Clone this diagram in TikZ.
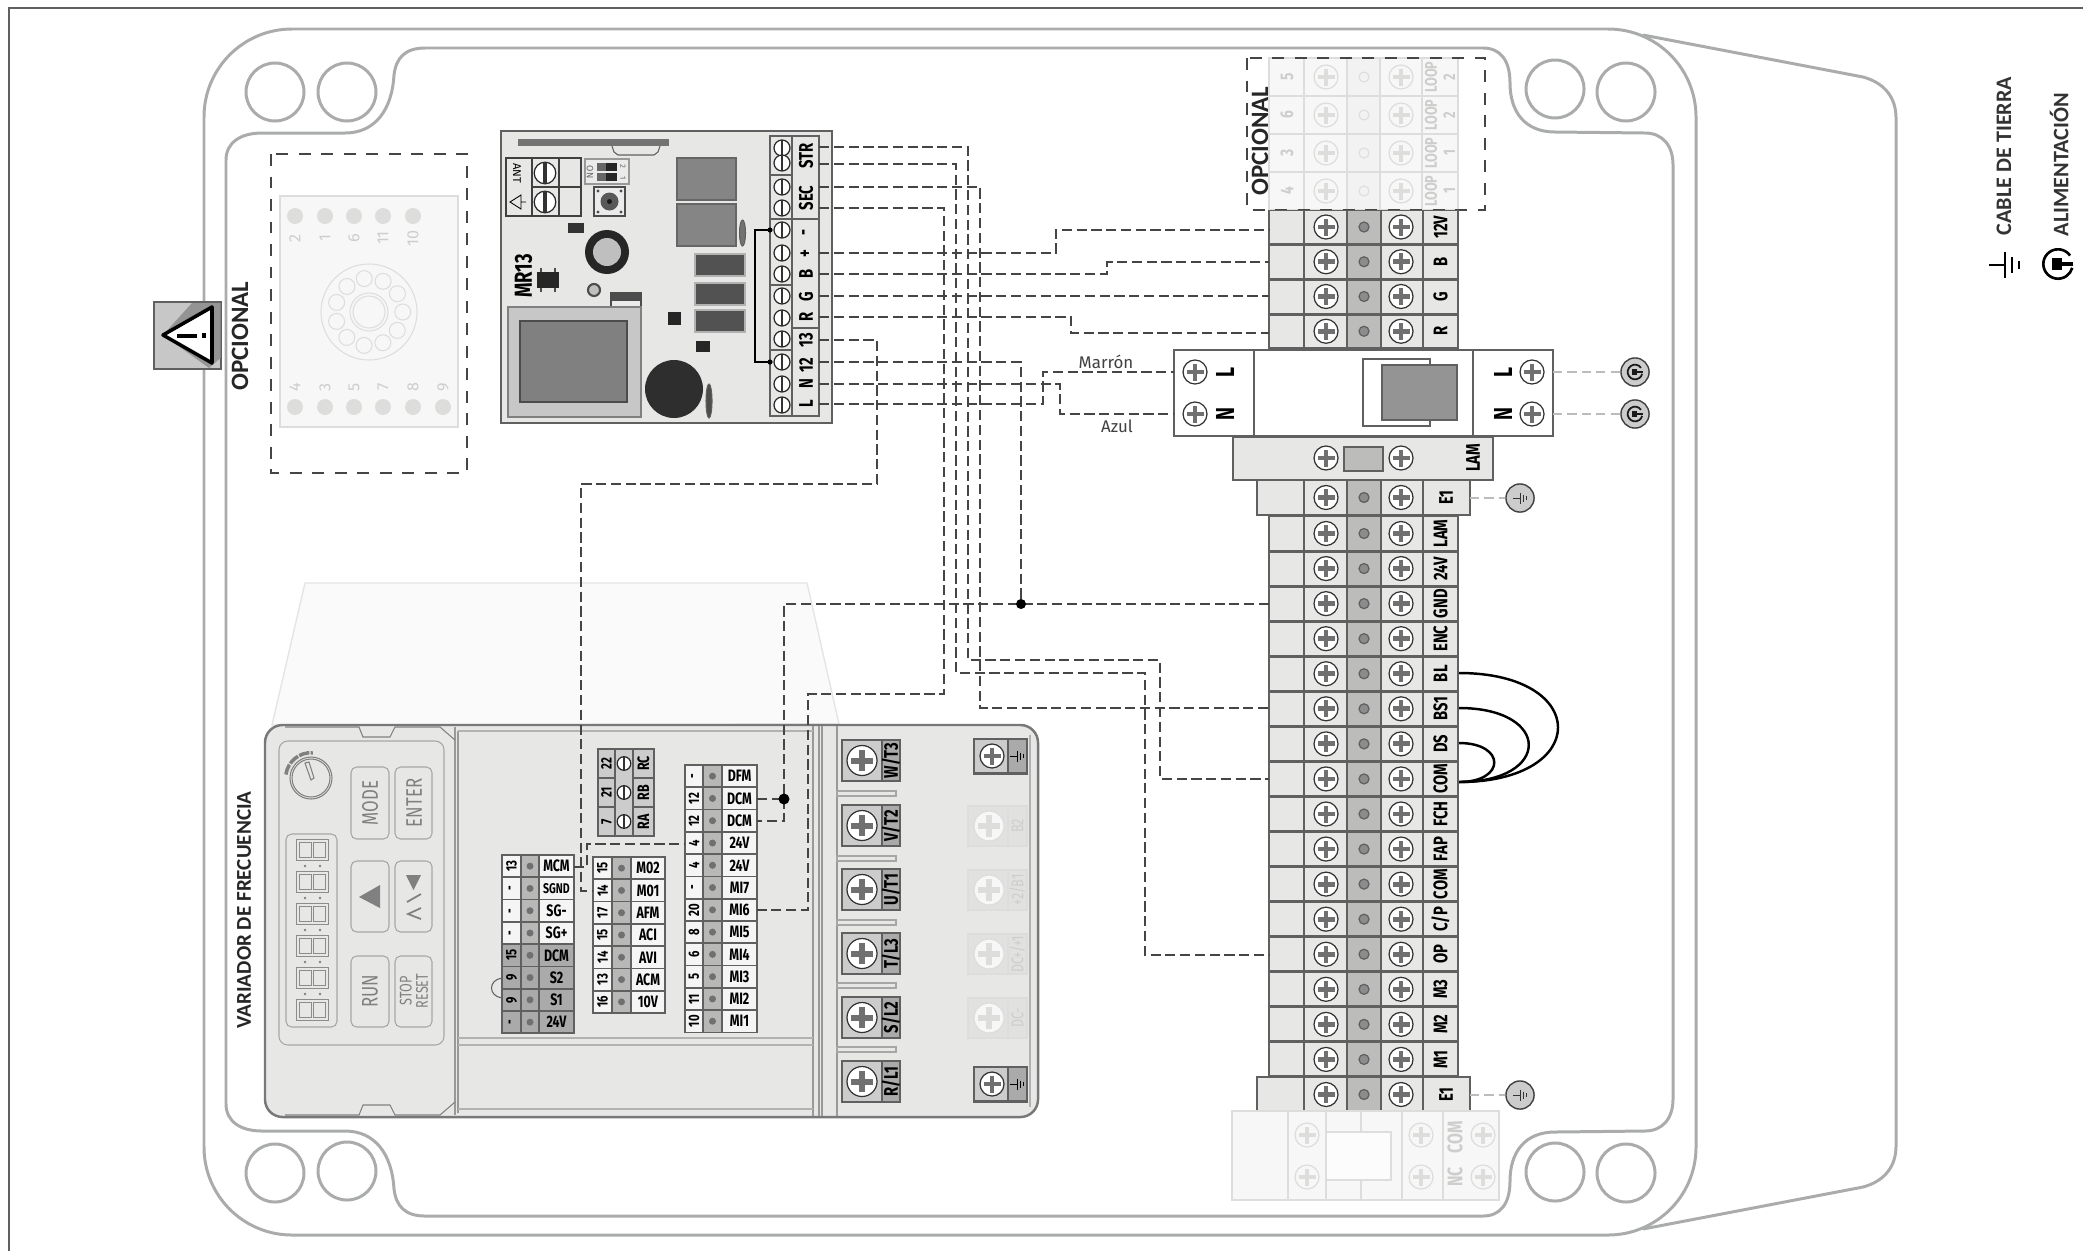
\documentclass[tikz,border=0pt]{standalone}
\usepackage{fontspec}
\newfontfamily\din[FakeStretch=0.75]{Fira Sans}
\newfontfamily\fira{Fira Sans}
\newfontfamily\carl{Carlito}
\definecolor{panel}{HTML}{E7E8E6}
\definecolor{bar}{HTML}{BCBDBB}
\definecolor{edge}{HTML}{5F605F}
\definecolor{cover}{HTML}{A9ACAB}
\definecolor{wirecol}{HTML}{454545}
\definecolor{lside}{HTML}{F4F5F4}
\definecolor{lmid}{HTML}{B8B9B7}
\definecolor{dside}{HTML}{A9AAA9}
\definecolor{dmid}{HTML}{A9AAA9}
\definecolor{faint}{HTML}{DDDEDC}
\definecolor{faintbg}{HTML}{F6F7F6}
\definecolor{faintink}{HTML}{CDCECC}
\tikzset{
	wire/.style={color=wirecol, line width=0.45pt, dash pattern=on 2.9pt off 1.3pt},
	earthwire/.style={color=bar, line width=0.6pt, dash pattern=on 2.6pt off 1.5pt},
	jumper/.style={line width=0.7pt},
	cover/.style={color=cover, line width=0.85pt},
	optbox/.style={color=wirecol, line width=0.8pt, dash pattern=on 3.4pt off 3pt},
	block/.style={draw=edge, line width=0.5pt, fill=panel},
	tlabel/.style={font=\din\bfseries\fontsize{5.6}{6}\selectfont, rotate=90, inner sep=0pt},
	vlabel/.style={font=\din\bfseries\fontsize{4.7}{5}\selectfont, inner sep=0pt},
	vnum/.style={font=\din\bfseries\fontsize{4.3}{5}\selectfont, rotate=90, inner sep=0pt},
	keylabel/.style={font=\din\fontsize{6.4}{6}\selectfont, rotate=90, inner sep=0pt, text=gray, align=center},
	faintlabel/.style={font=\din\bfseries\fontsize{5.2}{5.2}\selectfont, rotate=90, inner sep=0pt, text=faintink, align=center},
	bigtitle/.style={font=\carl\bfseries\fontsize{7.1}{8}\selectfont, rotate=90, inner sep=0pt, text=black!85},
	legend/.style={font=\carl\bfseries\fontsize{6.3}{8}\selectfont, rotate=90, inner sep=0pt, anchor=west, text=black!80},
	symdisc/.style={circle, draw=black!75, fill=black!20, line width=0.4pt, minimum size=8pt, inner sep=0pt},
	key/.style={draw=gray!70, line width=0.3pt, rounded corners=1.6pt},
	pics/phscrew/.style={code={
		\draw[fill=white, draw=black!80, line width=0.35pt] (0,0) circle (12);
		\fill[edge!90] (-8.5,-2.4) rectangle (8.5,2.4);
		\fill[edge!90] (-2.4,-8.5) rectangle (2.4,8.5);
	}},
	pics/faintscrew/.style={code={
		\draw[fill=faintbg, draw=faint, line width=0.35pt] (0,0) circle (12);
		\fill[faint] (-8.5,-2.4) rectangle (8.5,2.4);
		\fill[faint] (-2.4,-8.5) rectangle (2.4,8.5);
	}},
	pics/flatscrew/.style={code={
		\draw[fill=white, draw=black!85, line width=0.35pt] (0,0) circle (8);
		\fill[black!80] (-1.3,-8) rectangle (1.3,8);
	}},
	pics/earthsym/.style={code={
		\draw (-7,0) -- (0,0) (0,-5.5) -- (0,5.5);
		\draw (3,-3.5) -- (3,3.5);
		\draw (6,-1.8) -- (6,1.8);
	}},
	pics/plugsym/.style={code={
		\draw (0,0) ++(35:2.2pt) arc[start angle=35, end angle=345, radius=2.2pt];
		\fill (-3,-3) rectangle (2,3);
		\fill (2,-1.2) rectangle (8,1.2);
	}}
}
% one row block of the drive: name, four column edges, first y, rows
\newcommand{\vfdblock}[7]{
	\foreach \num/\lab/\tone [count=\i from 0, evaluate=\i as \yy using #6+22.28*\i, evaluate=\i as \yc using #6+22.28*\i+11.14] in {#7} {
		\draw[draw=edge, line width=0.5pt, fill=\tone side] (#2,\yy) rectangle (#5,\yy+22.28);
		\draw[draw=edge, line width=0.5pt, fill=\tone mid] (#3,\yy) rectangle (#4,\yy+22.28);
		\fill[edge!90] ({(#3+#4)/2},\yc) circle (3.5);
		\node[vnum] (#1n\i) at ({(#2+#3)/2},\yc) {\num};
		\node[vlabel] (#1l\i) at ({(#4+#5)/2},\yc) {\lab};
	}
}

\begin{document}
\begin{tikzpicture}[x=0.01cm, y=-0.01cm]
	\useasboundingbox (0,0) rectangle (2083,1251);

	% sheet edge
	\draw[color=edge, line width=0.5pt] (2083,8) -- (9,8) -- (9,1251);

	% lid and box
	\draw[cover] (1643,35) -- (1863,77) .. controls (1885,83) and (1896,98) .. (1896,118) -- (1896,1146) .. controls (1896,1166) and (1885,1181) .. (1863,1187) -- (1643,1229);
	\draw[cover, fill=white, rounded corners=25pt] (204,29) rectangle (1696,1235);
	\draw[cover] (226,1104) -- (226,160) .. controls (226,143) and (240,133) .. (262,133) -- (345,133) .. controls (375,133) and (392,110) .. (394,75) .. controls (396,58) and (405,48) .. (425,48) -- (1483,48) .. controls (1500,48) and (1510,60) .. (1510,83) .. controls (1510,112) and (1525,132) .. (1555,132) -- (1645,133) .. controls (1662,133) and (1673,145) .. (1673,165) -- (1673,1099) .. controls (1673,1119) and (1662,1131) .. (1645,1131) -- (1555,1132) .. controls (1525,1132) and (1510,1152) .. (1510,1181) .. controls (1510,1204) and (1500,1216) .. (1483,1216) -- (425,1216) .. controls (405,1216) and (396,1206) .. (394,1189) .. controls (392,1154) and (375,1131) .. (345,1131) -- (262,1131) .. controls (240,1131) and (226,1121) .. (226,1104) -- cycle;
	% fixing holes
	\foreach \hx/\hy in {275/92,347/92,1555/89,1626/92,275/1173,347/1171,1555/1172,1626/1173} {
		\draw[cover] (\hx,\hy) circle (29);
	}

	% warning sign
	\draw[draw=edge, fill=black!22, line width=0.5pt] (154,302) rectangle (221,369);
	\fill[black!42] (192,303) -- (220.5,303) -- (220.5,358) -- (209,368) -- (163,335) -- cycle;
	\draw[fill=white, line width=1pt, line join=round] (163,335) -- (212,307) -- (212,363) -- cycle;
	\fill[black] (177,333.5) rectangle (197,337.5);
	\fill[black] (202,333) rectangle (206,338);
	\node[bigtitle] (titleleft) at (240,336) {OPCIONAL};

	% optional relay socket
	\draw[optbox] (271,154) rectangle (467,473);
	\draw[draw=faint, fill=faintbg, line width=0.5pt] (280,196) rectangle (458,427);
	\foreach \nx/\lab in {295/2,325/1,354/6,383/11,413/10} {
		\fill[faint] (\nx,216) circle (8);
		\node[faintlabel, font=\fira\fontsize{4.6}{5}\selectfont] (socktop\lab) at (\nx,238) {\lab};
	}
	\foreach \nx/\lab in {295/4,325/3,354/5,383/7,413/8,443/9} {
		\fill[faint] (\nx,407) circle (8);
		\node[faintlabel, font=\fira\fontsize{4.6}{5}\selectfont] (sockbot\lab) at (\nx,387) {\lab};
	}
	\draw[color=faint, line width=0.3pt] (369,312) circle (48);
	\draw[color=faint, line width=0.3pt] (369,312) circle (19);
	\draw[color=faint, line width=0.3pt] (369,312) circle (16);
	\foreach \a in {0,32.7,...,330} {
		\draw[color=faint, line width=0.3pt] (369,312) ++(\a:9.6pt) circle (8);
	}

	% receiver board
	\draw[draw=edge, fill=panel, line width=0.7pt] (501,131) rectangle (832,423);
	\draw[draw=edge, line width=0.3pt] (612,146) -- (614,152) -- (618,155) -- (654,155) -- (658,152) -- (660,146);
	\fill[black!55] (518,139) rectangle (669,146);
	\draw[draw=black!75, line width=0.5pt] (506,158) rectangle (581,216);
	\draw[draw=black!75, line width=0.5pt] (532,158) -- (532,216) (559,158) -- (559,216) (532,187) -- (581,187);
	\pic[scale=1.35] at (545,173) {flatscrew};
	\pic[scale=1.35] at (545,202) {flatscrew};
	\node[font=\fira\fontsize{3.2}{4}\selectfont, rotate=-90, inner sep=0pt] (antname) at (517,173) {ANT};
	\draw[line width=0.25pt] (510,202) -- (521,195) -- (521,209) -- cycle (521,202) -- (526,202);
	% dip switch and button
	\draw[draw=black!40, fill=black!8, line width=0.4pt] (585,159) rectangle (629,184);
	\fill[black!60] (597,163) rectangle (606,171);
	\fill[black!85] (606,163) rectangle (617,171);
	\fill[black!60] (597,173) rectangle (606,181);
	\fill[black!85] (606,173) rectangle (617,181);
	\node[font=\fira\fontsize{2.6}{3}\selectfont, rotate=-90, inner sep=0pt, text=black!60] (dipon) at (590,172) {ON};
	\node[font=\fira\fontsize{2.2}{3}\selectfont, rotate=-90, inner sep=0pt, text=black!60] (diptwo) at (623,166) {2};
	\node[font=\fira\fontsize{2.2}{3}\selectfont, rotate=-90, inner sep=0pt, text=black!60] (dipone) at (623,178) {1};
	\draw[draw=black!70, fill=black!8, line width=0.4pt] (594,187) rectangle (625,216);
	\fill[black!65] (609.5,201.5) circle (9);
	\fill[black!90] (609.5,201.5) circle (2.5);
	\foreach \bx/\by in {598/191,621/191,598/212,621/212} {
		\fill[black!70] (\bx,\by) circle (1.6);
	}
	% relays, regulators and other parts
	\draw[draw=black!60, fill=black!48, line width=0.3pt] (677,158) rectangle (736,200);
	\draw[draw=black!60, fill=black!48, line width=0.3pt] (677,204) rectangle (736,246);
	\foreach \ty in {254,283,310} {
		\draw[draw=black!30, fill=black!68, line width=0.3pt] (695,\ty) rectangle (745,\ty+22);
	}
	\draw[draw=edge, fill=black!70, line width=0.3pt] (709,401) ellipse (3 and 17);
	\draw[draw=edge, fill=black!55, line width=0.3pt] (742.5,233) ellipse (3 and 13);
	\fill[black!85] (607,252) circle (22);
	\fill[black!25] (607,252) circle (14);
	\fill[black!80] (568,223) rectangle (584,233);
	\fill[black!85] (537,272) rectangle (559,288);
	\foreach \lx in {541,555} {
		\fill[black!70] (\lx-1,268) rectangle (\lx+1,272);
		\fill[black!70] (\lx-1,288) rectangle (\lx+1,292);
	}
	\fill[black!85] (668,312) rectangle (681,325);
	\fill[black!85] (696,341) rectangle (710,352);
	\draw[draw=black!70, fill=black!25, line width=0.6pt] (594,290) circle (6);
	\fill[black!70] (610,292) rectangle (642,307);
	\fill[black!8] (612,301) rectangle (640,307);
	\draw[draw=edge!80, fill=black!22, line width=0.4pt] (508,307) rectangle (641,417);
	\draw[draw=black!70, fill=black!50, line width=0.4pt] (520,321) rectangle (627,402);
	\fill[black!82] (674,389) circle (29);
	\node[font=\din\bfseries\fontsize{7}{7}\selectfont, rotate=90, inner sep=0pt] (boardname) at (523.5,276) {MR13};
	% board terminals
	\draw[block, line width=0.6pt] (770,136) rectangle (819,416);
	\draw[draw=edge, line width=0.5pt] (792,136) -- (792,416);
	\draw[draw=edge, line width=0.4pt] (770,175) -- (792,175) (770,219) -- (819,219) (770,285) -- (792,285) (792,328) -- (819,328) (770,350) -- (792,350);
	\foreach \sy in {148,163,187,208,230,253,274,296,318,339,362,384,405} {
		\pic at (782,\sy) {flatscrew};
	}
	\foreach \lab/\ly [count=\i] in {STR/156,SEC/198,-/232,+/254,B/274,G/297,R/317,13/340,12/365,N/384,L/404} {
		\node[tlabel] (mrl\i) at (806,\ly) {\lab};
	}
	% bridge on the board
	\draw[line width=0.45pt] (770,230) -- (755,230) -- (755,362) -- (770,362);
	\fill (770,230) circle (2.6);
	\fill (770,362) circle (2.6);

	% drive, ghost of the cover
	\draw[draw=black!10, fill=black!2, line width=0.4pt] (272,725) -- (305,583) -- (807,583) -- (839,724) -- cycle;
	% drive, body
	\draw[draw=edge!85, fill=panel, line width=0.7pt, rounded corners=5pt] (265,725) rectangle (1038,1117);
	\draw[draw=gray!80, line width=0.3pt] (455,727) -- (455,1115) (458,731) -- (458,1113);
	\draw[draw=gray!80, line width=0.3pt] (813,726) -- (813,1116) (819,726) -- (819,1116) (822,726) -- (822,1116) (837,726) -- (837,1116);
	\draw[draw=gray!60, line width=0.3pt] (458,731) -- (813,731) (458,1109) -- (813,1109) (458,1038) -- (813,1038) (458,1045) -- (813,1045);
	\draw[draw=gray!60, line width=0.3pt] (1030,735) -- (1030,1107);
	\draw[draw=gray, line width=0.3pt] (285,727) -- (359,727) -- (363,737) -- (390,737) -- (395,727) -- (440,727) -- (455,740);
	\draw[draw=gray, line width=0.3pt] (285,1115) -- (359,1115) -- (363,1105) -- (390,1105) -- (395,1115) -- (440,1115) -- (455,1102);
	% drive, keypad
	\draw[key, rounded corners=2.5pt] (279,741) rectangle (444,1045);
	\draw[key] (286,834) rectangle (337,1027);
	\draw[key] (351,767) rectangle (389,839);
	\draw[key] (395,767) rectangle (432,839);
	\draw[key] (351,861) rectangle (389,932);
	\draw[key] (395,861) rectangle (432,932);
	\draw[key] (351,956) rectangle (389,1027);
	\draw[key] (395,956) rectangle (432,1027);
	\node[keylabel] (keymode) at (370,803) {MODE};
	\node[keylabel] (keyenter) at (414,803) {ENTER};
	\node[keylabel] (keyrun) at (370,991) {RUN};
	\node[keylabel, font=\din\fontsize{4.8}{4.6}\selectfont] (keystop) at (414,991) {STOP\\RESET};
	\fill[gray] (359,897) -- (380,885) -- (380,908) -- cycle;
	\fill[gray] (406,875) -- (421,875) -- (413.5,890) -- cycle;
	\draw[gray, line width=0.5pt] (407,902) -- (421,894) (421,908) -- (408,914) -- (421,919);
	% drive, knob
	\draw[color=gray, line width=0.3pt] (311,778) circle (21);
	\draw[color=gray, line width=0.3pt] (311,778) circle (19);
	\draw[color=gray, line width=0.3pt] (305,763) -- (309,762) -- (314,778) -- (311,780) -- cycle;
	\draw[color=gray, line width=1pt, dash pattern=on 3pt off 0.4pt] (311,778) ++(172:7.2pt) arc[start angle=172, end angle=86, radius=7.2pt];
	% drive, display digits
	\foreach \dy in {850,882,914,946,978,1010} {
		\draw[color=gray!90, line width=0.22pt, double=panel, double distance=0.5pt] (298,\dy-9) rectangle (327,\dy+9) (312.5,\dy-9) -- (312.5,\dy+9);
	}
	\foreach \cy in {866,898,930,962,994} {
		\fill[gray] (305,\cy) circle (1.4);
		\fill[gray] (320,\cy) circle (1.4);
	}
	\node[bigtitle, font=\carl\bfseries\fontsize{6}{8}\selectfont] (titledrive) at (244,910) {VARIADOR DE FRECUENCIA};

	% drive, control terminals
	\vfdblock{ca}{502}{521}{539}{574}{855}{13/MCM/l,-/{\fontsize{4}{4}\selectfont SGND}/l,-/SG-/l,-/SG+/l,15/DCM/d,9/S2/d,9/S1/d,-/24V/d}
	\vfdblock{cb}{593}{612}{631}{665}{857}{15/M02/l,14/M01/l,17/AFM/l,15/ACI/l,14/AVI/l,13/ACM/l,16/10V/l}
	\vfdblock{cc}{685}{703}{722}{757}{765}{-/DFM/l,12/DCM/l,12/DCM/l,4/24V/l,4/24V/l,-/MI7/l,20/MI6/l,8/MI5/l,6/MI4/l,5/MI3/l,11/MI2/l,10/MI1/l}
	\draw[line width=0.3pt, color=edge] (502,978) .. controls (488,980) and (488,996) .. (502,998);
	% drive, relay terminals
	\draw[draw=edge, fill=black!20, line width=0.5pt] (598,749) rectangle (654,836);
	\draw[draw=edge, line width=0.4pt] (615,749) -- (615,836) (633,749) -- (633,836) (598,778) -- (615,778) (598,807) -- (615,807) (633,778) -- (654,778) (633,807) -- (654,807);
	\foreach \num/\lab [count=\i from 0, evaluate=\i as \yc using 763.5+29*\i] in {22/RC,21/RB,7/RA} {
		\node[vnum] (crn\i) at (606.5,\yc) {\num};
		\pic[scale=0.85] at (624,\yc) {flatscrew};
		\node[vlabel, rotate=90] (crl\i) at (643.5,\yc) {\lab};
	}
	% drive, power terminals
	\foreach \lab/\py [count=\i] in {{W/T3}/740,{V/T2}/805,{U/T1}/869,{T/L3}/933,{S/L2}/997,{R/L1}/1061} {
		\draw[draw=edge, fill=black!20, line width=0.6pt] (842,\py) rectangle (882,\py+41);
		\draw[draw=edge, fill=dside, line width=0.6pt] (882,\py) rectangle (900,\py+41);
		\pic[scale=1.25] at (862,\py+20.5) {phscrew};
		\node[tlabel] (pw\i) at (891,\py+20.5) {\lab};
	}
	\foreach \sy in {791,856,920,983,1047} {
		\draw[draw=gray!70, fill=panel, line width=0.3pt] (837,\sy) rectangle (896,\sy+5);
	}
	\foreach \py [count=\i] in {739,1067} {
		\draw[draw=edge, fill=black!20, line width=0.6pt] (974,\py) rectangle (1008,\py+34.5);
		\draw[draw=edge, fill=dside, line width=0.6pt] (1008,\py) rectangle (1027,\py+34.5);
		\pic at (992,\py+17) {phscrew};
		\pic[color=black, line width=0.28pt] at (1017,\py+17) {earthsym};
	}
	\foreach \lab/\py [count=\i] in {B2/806,{+2/B1}/870,{DC+/+1}/934,DC-/998} {
		\draw[draw=faint, fill=faint!60!panel, line width=0.6pt] (968,\py) rectangle (1027,\py+40);
		\draw[draw=faint, line width=0.4pt] (1008,\py) -- (1008,\py+40);
		\pic[scale=1.25] at (989,\py+20) {faintscrew};
		\node[faintlabel, font=\din\fontsize{4.8}{5}\selectfont] (pwf\i) at (1017.5,\py+20) {\lab};
	}

	% optional terminals on top of the strip
	\foreach \num/\lab [count=\i from 0, evaluate=\i as \yy using 58+38*\i, evaluate=\i as \yc using 77+38*\i] in {5/2,6/2,3/1,4/1} {
		\draw[draw=faint, fill=faintbg, line width=0.5pt] (1269,\yy) rectangle (1458,\yy+38);
		\draw[draw=faint, fill=faint!40!white, line width=0.5pt] (1347,\yy) rectangle (1380,\yy+38);
		\draw[draw=faint, line width=0.5pt] (1304,\yy) -- (1304,\yy+38) (1422,\yy) -- (1422,\yy+38);
		\pic at (1326,\yc) {faintscrew};
		\pic at (1401,\yc) {faintscrew};
		\draw[draw=faint, line width=0.3pt] (1364,\yc) circle (5);
		\node[faintlabel] (loopn\i) at (1287,\yc) {\num};
		\node[faintlabel, font=\din\bfseries\fontsize{4.8}{5.2}\selectfont] (loopl\i) at (1440,\yc) {LOOP\\\lab};
	}
	\draw[optbox] (1247,58) rectangle (1485,210);
	\node[bigtitle] (titleopt) at (1260,141) {OPCIONAL};

	% terminal strip, upper part
	\foreach \lab [count=\i from 0, evaluate=\i as \yy using 210+34.75*\i, evaluate=\i as \yc using 227+34.75*\i] in {12V,B,G,R} {
		\draw[block] (1269,\yy+0.6) rectangle (1458,\yy+34.1);
		\draw[draw=edge, fill=bar, line width=0.5pt] (1347,\yy+0.6) rectangle (1381,\yy+34.1);
		\draw[draw=edge, line width=0.5pt] (1304,\yy+0.6) -- (1304,\yy+34.1) (1423,\yy+0.6) -- (1423,\yy+34.1);
		\pic at (1326,\yc) {phscrew};
		\pic at (1401,\yc) {phscrew};
		\draw[draw=edge, fill=black!45, line width=0.35pt] (1364,\yc) circle (5);
		\node[tlabel] (ta\i) at (1440.5,\yc) {\lab};
	}

	% breaker
	\draw[draw=edge, fill=white, line width=0.6pt] (1174,350) rectangle (1553,436);
	\draw[draw=edge, line width=0.5pt] (1254,350) -- (1254,436) (1473,350) -- (1473,436);
	\draw[draw=edge, fill=white, line width=0.4pt] (1363,359) rectangle (1430,426);
	\draw[draw=edge, fill=black!42, line width=0.4pt] (1382,365) rectangle (1457,420);
	\pic at (1195,372) {phscrew};
	\pic at (1195,414) {phscrew};
	\pic at (1532,372) {phscrew};
	\pic at (1532,414) {phscrew};
	\node[tlabel, font=\din\bfseries\fontsize{7.4}{7}\selectfont] (brkll) at (1225,372) {L};
	\node[tlabel, font=\din\bfseries\fontsize{7.4}{7}\selectfont] (brkln) at (1225,414) {N};
	\node[tlabel, font=\din\bfseries\fontsize{7.4}{7}\selectfont] (brkrl) at (1503,372) {L};
	\node[tlabel, font=\din\bfseries\fontsize{7.4}{7}\selectfont] (brkrn) at (1503,414) {N};

	% lamp block
	\draw[block, line width=0.6pt] (1233,437) rectangle (1493,480);
	\draw[draw=edge, fill=bar, line width=0.5pt] (1344,447) rectangle (1383,471);
	\pic at (1326,458) {phscrew};
	\pic at (1401,458) {phscrew};
	\node[tlabel] (lamblock) at (1473,458) {LAM};

	% earth blocks
	\foreach \py [count=\i] in {480,1077} {
		\draw[block, line width=0.6pt] (1257,\py) rectangle (1470,\py+35);
		\draw[draw=edge, fill=bar, line width=0.5pt] (1347,\py) rectangle (1381,\py+35);
		\draw[draw=edge, line width=0.5pt] (1304,\py) -- (1304,\py+35) (1423,\py) -- (1423,\py+35);
		\pic at (1326,\py+17.5) {phscrew};
		\pic at (1401,\py+17.5) {phscrew};
		\draw[draw=edge, fill=black!45, line width=0.35pt] (1364,\py+17.5) circle (5);
		\node[tlabel] (eb\i) at (1446,\py+17.5) {E1};
	}

	% terminal strip, lower part
	\foreach \lab [count=\i from 0, evaluate=\i as \yy using 516+35.06*\i, evaluate=\i as \yc using 533.5+35.06*\i] in {LAM,24V,GND,ENC,BL,BS1,DS,COM,FCH,FAP,COM,C/P,OP,M3,M2,M1} {
		\draw[block] (1269,\yy+0.6) rectangle (1458,\yy+34.4);
		\draw[draw=edge, fill=bar, line width=0.5pt] (1347,\yy+0.6) rectangle (1381,\yy+34.4);
		\draw[draw=edge, line width=0.5pt] (1304,\yy+0.6) -- (1304,\yy+34.4) (1423,\yy+0.6) -- (1423,\yy+34.4);
		\pic at (1326,\yc) {phscrew};
		\pic at (1401,\yc) {phscrew};
		\draw[draw=edge, fill=black!45, line width=0.35pt] (1364,\yc) circle (5);
		\node[tlabel] (tb\i) at (1440.5,\yc) {\lab};
	}

	% optional contactor below the strip
	\draw[draw=faint, fill=faintbg, line width=0.6pt] (1232,1111) rectangle (1499,1200);
	\draw[draw=faint, line width=0.5pt] (1288,1111) -- (1288,1200) (1326,1111) -- (1326,1200) (1402,1111) -- (1402,1200) (1443,1111) -- (1443,1200);
	\draw[draw=faint, line width=0.5pt] (1361,1111) -- (1361,1132) (1361,1180) -- (1361,1200);
	\draw[draw=faint, fill=white!60!faintbg, line width=0.5pt] (1326,1132) rectangle (1391,1180);
	\foreach \sx in {1307,1421,1483} {
		\pic at (\sx,1135) {faintscrew};
		\pic at (\sx,1177) {faintscrew};
	}
	\node[faintlabel, font=\din\bfseries\fontsize{6}{6}\selectfont] (faintnc) at (1455,1177) {NC};
	\node[faintlabel, font=\din\bfseries\fontsize{6}{6}\selectfont] (faintcom) at (1455,1137) {COM};

	% wire ends
	\coordinate (mr-stra) at (819,147);
	\coordinate (mr-strb) at (819,164);
	\coordinate (mr-seca) at (819,187);
	\coordinate (mr-secb) at (819,208);
	\coordinate (mr-plus) at (819,253);
	\coordinate (mr-b) at (819,274);
	\coordinate (mr-g) at (819,296);
	\coordinate (mr-r) at (819,317);
	\coordinate (mr-13) at (819,340);
	\coordinate (mr-12) at (819,362);
	\coordinate (mr-n) at (819,384);
	\coordinate (mr-l) at (819,404);
	\coordinate (st-12v) at (1269,230);
	\coordinate (st-b) at (1269,262);
	\coordinate (st-g) at (1269,296);
	\coordinate (st-r) at (1269,333);
	\coordinate (st-gnd) at (1269,604);
	\coordinate (st-bs1) at (1269,708);
	\coordinate (st-com) at (1269,779);
	\coordinate (st-op) at (1269,955);
	\coordinate (brk-l) at (1174,372);
	\coordinate (brk-n) at (1174,414);
	\coordinate (vf-mcm) at (574,867);
	\coordinate (vf-mo1) at (593,891);
	\coordinate (vf-24v) at (685,844);
	\coordinate (vf-dcma) at (757,799);
	\coordinate (vf-dcmb) at (757,821);
	\coordinate (vf-mi6) at (757,910);
	\coordinate (dotgnd) at (1021,604);
	\coordinate (dotdcm) at (784,799);

	% wires
	\draw[wire] (mr-stra) -| (968,660) -| (1160,779) -- (st-com);
	\draw[wire] (mr-strb) -| (956,673) -| (1145,955) -- (st-op);
	\draw[wire] (mr-seca) -| (980,708) -- (st-bs1);
	\draw[wire] (mr-secb) -| (944,694) -| (808,910) -- (vf-mi6);
	\draw[wire] (mr-plus) -| (1056,230) -- (st-12v);
	\draw[wire] (mr-b) -| (1107,262) -- (st-b);
	\draw[wire] (mr-g) -- (st-g);
	\draw[wire] (mr-r) -| (1071,333) -- (st-r);
	\draw[wire] (mr-13) -| (877,484) -| (581,891) -- (vf-mo1);
	\draw[wire] (mr-12) -| (dotgnd);
	\draw[wire] (st-gnd) -- (784,604) -- (784,821) -- (vf-dcmb);
	\draw[wire] (vf-dcma) -- (dotdcm);
	\draw[wire] (mr-n) -| (1060,414) -- (brk-n);
	\draw[wire] (mr-l) -| (1043,372) -- (brk-l);
	\draw[wire] (vf-mcm) -| (587,844) -- (vf-24v);
	\fill (dotgnd) circle (5);
	\fill (dotdcm) circle (5.5);
	\node[font=\fira\fontsize{4.8}{5}\selectfont, inner sep=0pt, text=black!75] (marron) at (1106,362) {Marrón};
	\node[font=\fira\fontsize{4.8}{5}\selectfont, inner sep=0pt, text=black!75] (azul) at (1117,426) {Azul};

	% jumpers
	\draw[jumper] (1459,673) .. controls (1591,673) and (1591,782) .. (1459,782);
	\draw[jumper] (1459,708) .. controls (1552,708) and (1552,782) .. (1459,782);
	\draw[jumper] (1459,743) .. controls (1506,743) and (1506,782) .. (1459,782);

	% earth and mains discs
	\node[symdisc] (eartha) at (1520,498) {};
	\node[symdisc] (earthb) at (1520,1095) {};
	\node[symdisc] (maina) at (1635,372) {};
	\node[symdisc] (mainb) at (1635,414) {};
	\coordinate (ebtop) at (1470,498);
	\coordinate (ebbot) at (1470,1095);
	\coordinate (brk-rl) at (1553,372);
	\coordinate (brk-rn) at (1553,414);
	\draw[earthwire] (ebtop) -- (eartha);
	\draw[earthwire] (ebbot) -- (earthb);
	\draw[earthwire] (brk-rl) -- (maina);
	\draw[earthwire] (brk-rn) -- (mainb);
	\pic[color=black!80, line width=0.28pt] at (1520,498) {earthsym};
	\pic[color=black!80, line width=0.28pt] at (1520,1095) {earthsym};
	\pic[scale=0.95, color=black!90, line width=0.5pt] at (1635,372) {plugsym};
	\pic[scale=0.95, color=black!90, line width=0.5pt] at (1635,414) {plugsym};

	% legend
	\node[legend] (legendearth) at (2004,236) {CABLE DE TIERRA};
	\node[legend] (legendmains) at (2059,237) {ALIMENTACIÓN};
	\pic[scale=2.3, color=black, line width=0.45pt] at (2005,265) {earthsym};
	\pic[scale=1.9, color=black, line width=0.75pt] at (2058,264) {plugsym};

\end{tikzpicture}
\end{document}
